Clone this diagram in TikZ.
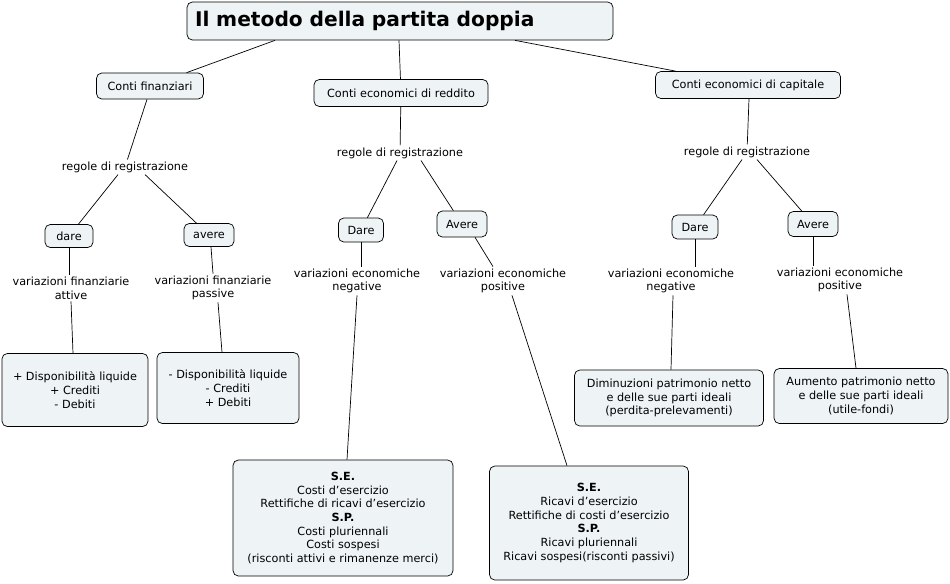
\documentclass[tikz,border=0pt]{standalone}
\usepackage{fontspec}
\setmainfont{DejaVu Sans}
\usetikzlibrary{positioning}
\definecolor{boxfill}{HTML}{EEF3F5}
\tikzset{
	box/.style={draw, rounded corners=3pt, fill=boxfill, align=center, font=\fontsize{6.4}{7.8}\selectfont, inner sep=3pt},
	lbl/.style={align=center, font=\fontsize{6.4}{7.8}\selectfont, inner sep=1pt},
}
\begin{document}
\begin{tikzpicture}[x=0.02cm, y=-0.02cm]
	\useasboundingbox (0,0) rectangle (950,583);

	\node[box, minimum width=8.52cm, minimum height=0.76cm, font=\bfseries\fontsize{11.5}{13}\selectfont, text width=8.2cm, align=left] (title) at (400,21) {Il metodo della partita doppia};

	\node[box, minimum width=2.14cm, minimum height=0.52cm] (fin) at (150,86) {Conti finanziari};
	\node[box, minimum width=3.48cm, minimum height=0.54cm] (red) at (401,93) {Conti economici di reddito};
	\node[box, minimum width=3.7cm, minimum height=0.54cm] (cap) at (748,85) {Conti economici di capitale};

	\node[lbl] (reg1) at (125,167) {regole di registrazione};
	\node[lbl] (reg2) at (400,153) {regole di registrazione};
	\node[lbl] (reg3) at (747,152) {regole di registrazione};

	\node[box, minimum width=0.96cm, minimum height=0.46cm] (dare1) at (69,236) {dare};
	\node[box, minimum width=1.0cm, minimum height=0.46cm] (avere1) at (209,235) {avere};
	\node[box, minimum width=0.9cm, minimum height=0.48cm] (dare2) at (361,230) {Dare};
	\node[box, minimum width=1.0cm, minimum height=0.52cm] (avere2) at (462,224) {Avere};
	\node[box, minimum width=0.92cm, minimum height=0.48cm] (dare3) at (695,227) {Dare};
	\node[box, minimum width=1.0cm, minimum height=0.5cm] (avere3) at (813,224) {Avere};

	\node[lbl] (var1) at (71,288) {variazioni finanziarie\\attive};
	\node[lbl] (var2) at (213,288) {variazioni finanziarie\\passive};
	\node[lbl] (var3) at (357,281) {variazioni economiche\\negative};
	\node[lbl] (var4) at (503,281) {variazioni economiche\\positive};
	\node[lbl] (var5) at (671,281) {variazioni economiche\\negative};
	\node[lbl] (var6) at (840,280) {variazioni economiche\\positive};

	\node[box, minimum width=2.92cm, minimum height=1.46cm] (att) at (75,390) {+ Disponibilità liquide\\+ Crediti\\- Debiti};
	\node[box, minimum width=2.84cm, minimum height=1.42cm] (pas) at (228,388) {- Disponibilità liquide\\- Crediti\\+ Debiti};
	\node[box, minimum width=4.4cm, minimum height=2.32cm] (neg) at (343,518) {\textbf{S.E.}\\Costi d'esercizio\\Rettifiche di ricavi d'esercizio\\\textbf{S.P.}\\Costi pluriennali\\Costi sospesi\\(risconti attivi e rimanenze merci)};
	\node[box, minimum width=3.98cm, minimum height=2.28cm] (pos) at (589,523) {\textbf{S.E.}\\Ricavi d'esercizio\\Rettifiche di costi d'esercizio\\\textbf{S.P.}\\Ricavi pluriennali\\Ricavi sospesi(risconti passivi)};
	\node[box, minimum width=3.78cm, minimum height=1.12cm] (dim) at (669,398) {Diminuzioni patrimonio netto\\e delle sue parti ideali\\(perdita-prelevamenti)};
	\node[box, minimum width=3.48cm, minimum height=1.1cm] (aum) at (861,396) {Aumento patrimonio netto\\e delle sue parti ideali\\(utile-fondi)};

	\draw (title.south -| 275,0) -- (fin);
	\draw (title.south -| 399,0) -- (red);
	\draw (title.south -| 515,0) -- (cap);
	\draw (fin.south -| 147,0) -- (reg1);
	\draw (red) -- (reg2);
	\draw (cap.south -| 749,0) -- (reg3);
	\draw (reg1.south -| 118,0) -- (dare1);
	\draw (reg1.south -| 145,0) -- (avere1);
	\draw (reg2.south -| 397,0) -- (dare2);
	\draw (reg2.south -| 421,0) -- (avere2);
	\draw (reg3.south -| 742,0) -- (dare3);
	\draw (reg3.south -| 757,0) -- (avere3);
	\draw (dare1.south -| 69,0) -- (var1.north -| 69,0);
	\draw (avere1.south -| 211,0) -- (var2.north -| 213,0);
	\draw (dare2) -- (var3.north -| 361,0);
	\draw (avere2.south -| 475,0) -- (var4.north -| 493,0);
	\draw (dare3) -- (var5.north -| 695,0);
	\draw (avere3) -- (var6.north -| 813,0);
	\draw (var1.south -| 71,0) -- (att.north -| 73,0);
	\draw (var2.south -| 218,0) -- (pas.north -| 222,0);
	\draw (var3.south -| 357,0) -- (neg.north -| 347,0);
	\draw (var4.south -| 512,0) -- (pos.north -| 567,0);
	\draw (var5.south -| 673,0) -- (dim.north -| 671,0);
	\draw (var6.south -| 847,0) -- (aum.north -| 856,0);
\end{tikzpicture}
\end{document}
